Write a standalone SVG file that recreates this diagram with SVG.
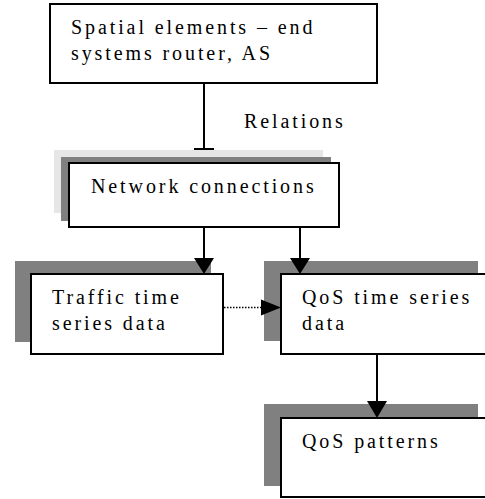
<svg xmlns="http://www.w3.org/2000/svg" width="485" height="499" viewBox="0 0 485 499" font-family="'Liberation Serif', 'Times New Roman', 'DejaVu Serif', serif">
<style>
.box{fill:#fff;stroke:#000;stroke-width:2}
.sh{fill:#808080}
.lsh{fill:#e6e6e6}
.t{font-family:'Liberation Serif','Times New Roman','DejaVu Serif',serif;font-size:20px;letter-spacing:2.9px;fill:#000}
.ln{stroke:#000;stroke-width:2;fill:none}
.dot{stroke:#000;stroke-width:1.5;stroke-dasharray:1.5 1.5;fill:none}
.head{fill:#000}
</style>
<rect width="485" height="499" fill="#fff"/>
<g id="spatial">
<rect class="box" x="50" y="4" width="327" height="79"/>
<text class="t" x="71" y="34">Spatial elements – end</text>
<text class="t" x="71" y="60">systems router, AS</text>
</g>
<g id="network">
<rect class="lsh" x="54" y="150" width="269" height="63"/>
<rect class="sh" x="61" y="157" width="270" height="64"/>
<rect class="box" x="69" y="163" width="270" height="64"/>
<text class="t" x="91" y="193">Network connections</text>
</g>
<g id="traffic">
<rect class="sh" x="15" y="261" width="196" height="81"/>
<rect class="box" x="31" y="274" width="192" height="80"/>
<text class="t" x="52" y="304">Traffic time</text>
<text class="t" x="52" y="330">series data</text>
</g>
<g id="qos">
<rect class="sh" x="264" y="261" width="214" height="80"/>
<rect class="box" x="281" y="274" width="215" height="80"/>
<text class="t" x="302" y="304">QoS time series</text>
<text class="t" x="302" y="330">data</text>
</g>
<g id="patterns">
<rect class="sh" x="264" y="404" width="214" height="82"/>
<rect class="box" x="281" y="418" width="215" height="79"/>
<text class="t" x="302" y="448">QoS patterns</text>
</g>
<g id="connectors">
<line class="ln" x1="204" y1="83" x2="204" y2="149"/>
<line class="ln" x1="194" y1="149" x2="214" y2="149"/>
<text class="t" x="244" y="128">Relations</text>
<line class="ln" x1="204" y1="227" x2="204" y2="259"/>
<polygon class="head" points="194,258 214,258 204,274"/>
<line class="ln" x1="300" y1="227" x2="300" y2="259"/>
<polygon class="head" points="290,258 310,258 300,274"/>
<line class="dot" x1="224" y1="307.5" x2="262" y2="307.5"/>
<polygon class="head" points="261,299.5 261,315.5 281,307.5"/>
<line class="ln" x1="377" y1="354" x2="377" y2="402"/>
<polygon class="head" points="367,401 387,401 377,418"/>
</g>
</svg>
